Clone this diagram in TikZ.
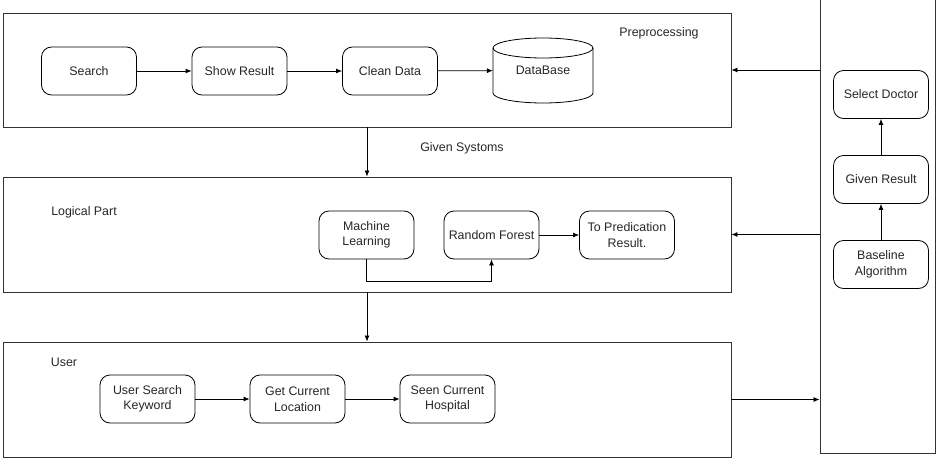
\documentclass[tikz,border=0pt]{standalone}
\usepackage{fontspec}
\setmainfont{Liberation Sans}
\usetikzlibrary{arrows.meta}
\begin{document}
\begin{tikzpicture}[x=1pt,y=-1pt,
  every node/.style={font=\fontsize{12.4}{15.5}\selectfont, text=black!85},
  panel/.style={draw=black!80, line width=0.9pt, rectangle, inner sep=0pt},
  proc/.style={draw=black, line width=0.8pt, rectangle, rounded corners=10pt,
    minimum width=95pt, minimum height=48pt, align=center, inner sep=1pt},
  lbl/.style={inner sep=0pt},
  arr/.style={draw=black, line width=0.8pt, -{Latex[length=6pt,width=5pt]}}
]
\useasboundingbox (0,0) rectangle (942,460);
% panels
\node[panel, minimum width=728pt, minimum height=114pt] (pre) at (367,70) {};
\node[panel, minimum width=728pt, minimum height=115pt] (logic) at (367,234.5) {};
\node[panel, minimum width=728pt, minimum height=115pt] (user) at (367,399.5) {};
\node[panel, minimum width=115pt, minimum height=457pt] (right) at (877.5,224.5) {};
% labels
\node[lbl] (lpre) at (659,33) {Preprocessing};
\node[lbl] (lgiven) at (462,148) {Given Systoms};
\node[lbl] (llogic) at (84,212) {Logical Part};
\node[lbl] (luser) at (64,362) {User};
% preprocessing
\node[proc] (search) at (89,71) {Search};
\node[proc] (show) at (239.5,71) {Show Result};
\node[proc] (clean) at (390,71) {Clean Data};
\draw[line width=0.8pt] (493,48) -- (493,93) arc (180:360:50pt and 10pt) -- (593,48);
\draw[line width=0.8pt] (543,48) ellipse [x radius=50pt, y radius=10pt];
\node[rectangle, minimum width=100pt, minimum height=65pt, inner sep=0pt] (db) at (543,70.5) {};
\node[lbl] (dbtext) at (543,70) {DataBase};
\draw[arr] (search) -- (show);
\draw[arr] (show) -- (clean);
\draw[arr] (clean) -- (db);
% logical part
\node[proc] (ml) at (366.5,235) {Machine\\Learning};
\node[proc] (rf) at (491.5,235) {Random Forest};
\node[proc] (tpr) at (627,235) {To Predication\\Result.};
\draw[arr] (rf) -- (tpr);
\draw[arr] (ml.south) -- ++(0,22) -| (rf.south);
% user
\node[proc] (usk) at (147.5,399) {User Search\\Keyword};
\node[proc] (gcl) at (297.5,399) {Get Current\\Location};
\node[proc] (sch) at (447.5,399) {Seen Current\\Hospital};
\draw[arr] (usk) -- (gcl);
\draw[arr] (gcl) -- (sch);
% right
\node[proc] (sel) at (881,94.5) {Select Doctor};
\node[proc] (gres) at (881,179.5) {Given Result};
\node[proc] (base) at (881,264.5) {Baseline\\Algorithm};
\draw[arr] (base) -- (gres);
\draw[arr] (gres) -- (sel);
% between panels
\draw[arr] (pre.south) -- (logic.north);
\draw[arr] (logic.south) -- (user.north);
\draw[arr] (right.west |- pre.east) -- (pre.east);
\draw[arr] (right.west |- logic.east) -- (logic.east);
\draw[arr] (user.east) -- (right.west |- user.east);
\end{tikzpicture}
\end{document}
